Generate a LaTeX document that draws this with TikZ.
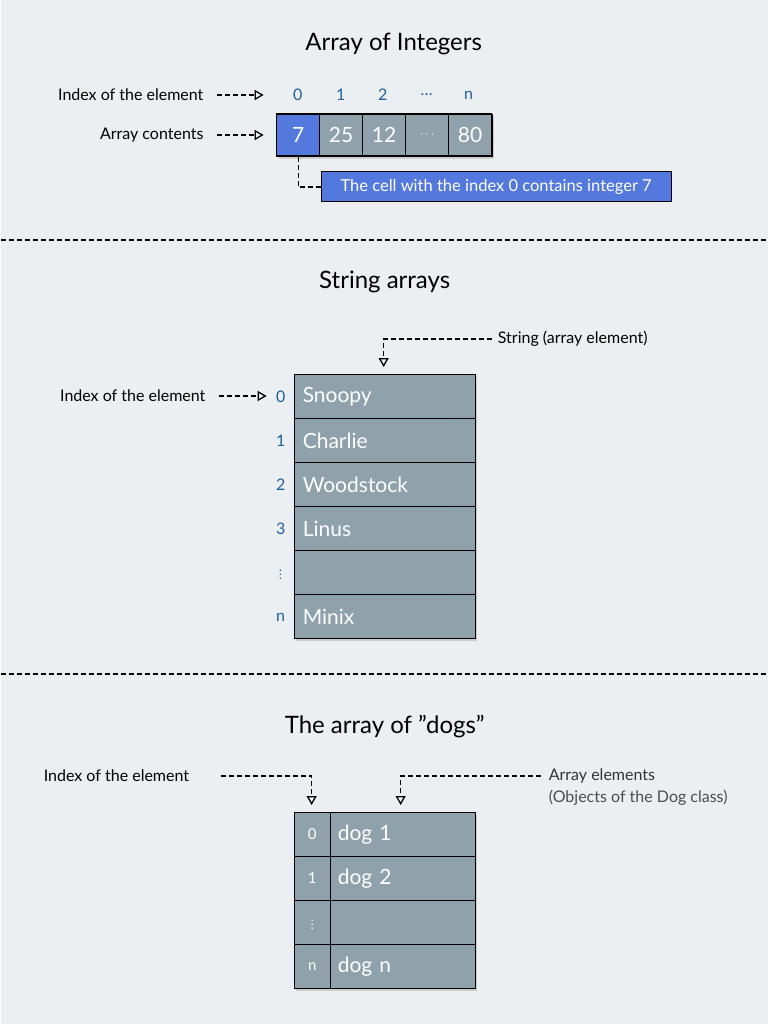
\documentclass[tikz,border=0pt]{standalone}
\usepackage{fontspec}
\setmainfont{Lato}
\usetikzlibrary{arrows.meta,shadows}
\definecolor{bg}{HTML}{ECEFF2}
\definecolor{cellg}{HTML}{8FA1AA}
\definecolor{cellb}{HTML}{5479DE}
\definecolor{idx}{HTML}{1F5F9E}
\begin{document}
\begin{tikzpicture}[x=1pt,y=-1pt,
  cell/.style={draw=black,line width=1.2pt,fill=cellg,text=white,font=\fontsize{21}{21}\selectfont,inner sep=0pt},
  lbl/.style={font=\fontsize{16}{16}\selectfont,text=black,inner sep=0pt},
  ix/.style={font=\fontsize{16}{16}\selectfont,text=idx,inner sep=0pt},
  ttl/.style={font=\fontsize{24}{24}\selectfont,inner sep=0pt},
  dl/.style={dashed,dash pattern=on 5pt off 3pt,line width=1.3pt},
  arr/.style={dl,-{Triangle[open,length=9pt,width=10pt,line width=1.3pt]}},
  shd/.style={drop shadow={shadow xshift=2pt,shadow yshift=-2pt,opacity=0.3}}]
\fill[bg] (0,0) rectangle (767,1024);
% ---- top
\node[ttl] (t1) at (393,44) {Array of Integers};
\node[shd,draw,line width=1.2pt,minimum width=215pt,minimum height=42pt,anchor=north west] (arrbox) at (276,114) {};
\foreach \i/\x/\t in {1/340.5/25,2/383.5/12,3/426.5/{\fontsize{12}{12}\selectfont$\cdots$},4/469.5/80}{
  \node[cell,minimum width=43pt,minimum height=42pt] (c\i) at (\x,135) {\t};
}
\node[cell,fill=cellb,minimum width=43pt,minimum height=42pt] (c0) at (297.5,135) {7};
\foreach \i/\x/\t in {0/297/0,1/340/1,2/382/2,3/426/{\ldots},4/468/n}{
  \node[ix] (i\i) at (\x,95) {\t};
}
\node[lbl,anchor=east] (l1) at (203,95) {Index of the element};
\node[lbl,anchor=east] (l2) at (203,135) {Array contents};
\draw[arr] (216,95) coordinate (a1s) -- (263,95) coordinate (a1e);
\draw[arr] (216,135) coordinate (a2s) -- (263,135) coordinate (a2e);
\node[draw=black,line width=1pt,fill=cellb,text=white,font=\fontsize{16.5}{16.5}\selectfont,minimum width=350pt,minimum height=30pt,inner sep=0pt,anchor=west] (call) at (320,187) {The cell with the index 0 contains integer 7};
\draw[dl] (c0.south) |- (call.west);
\draw[dl] (0,240) coordinate (s1a) -- (767,240) coordinate (s1b);
% ---- strings
\node[ttl] (t2) at (384,282) {String arrays};
\node[shd,draw,line width=1.2pt,minimum width=181pt,minimum height=264pt,anchor=north west] (sbox) at (293,374) {};
\foreach \r/\t/\n in {0/Snoopy/0,1/Charlie/1,2/Woodstock/2,3/Linus/3,4/{}/{\raisebox{2pt}{\fontsize{12}{12}\selectfont$\vdots$}},5/Minix/n}{
  \node[cell,minimum width=181pt,minimum height=44pt,anchor=north west,text width=166pt,align=left] (s\r) at (293,374+44*\r) {\hspace*{1pt}\t};
  \node[ix] (si\r) at (280,397+44*\r) {\n};
}
\node[lbl,anchor=east] (l3) at (205,396) {Index of the element};
\draw[arr] (218,396) coordinate (a3s) -- (266,396) coordinate (a3e);
\node[lbl,anchor=west] (l4) at (497,339) {String (array element)};
\draw[arr] (491,339) coordinate (a4s) -| (383,367) coordinate (a4e);
\draw[dl] (0,674) coordinate (s2a) -- (767,674) coordinate (s2b);
% ---- dogs
\node[ttl] (t3) at (384,727) {The array of \symbol{34}dogs\symbol{34}};
\node[shd,draw,line width=1.2pt,minimum width=181pt,minimum height=176pt,anchor=north west] (dbox) at (293,812) {};
\foreach \r/\t/\n in {0/dog 1/0,1/dog 2/1,2/{}/{\raisebox{2pt}{\fontsize{12}{12}\selectfont$\vdots$}},3/dog n/n}{
  \node[cell,minimum width=36pt,minimum height=44pt,anchor=north west,font=\fontsize{15}{15}\selectfont] (di\r) at (293,812+44*\r) {\n};
  \node[cell,minimum width=145pt,minimum height=44pt,anchor=north west,text width=130pt,align=left] (d\r) at (329,812+44*\r) {\t};
}
\node[lbl,anchor=west] (l5) at (43,776) {Index of the element};
\draw[arr] (220,776) coordinate (a5s) -| (311,805) coordinate (a5e);
\node[lbl,anchor=west,text=black!80] (l6) at (548,776) {Array elements};
\node[lbl,anchor=west,text=black!70] (l7) at (548,798) {(Objects of the Dog class)};
\draw[arr] (540,776) coordinate (a6s) -| (400,805) coordinate (a6e);
\end{tikzpicture}
\end{document}
